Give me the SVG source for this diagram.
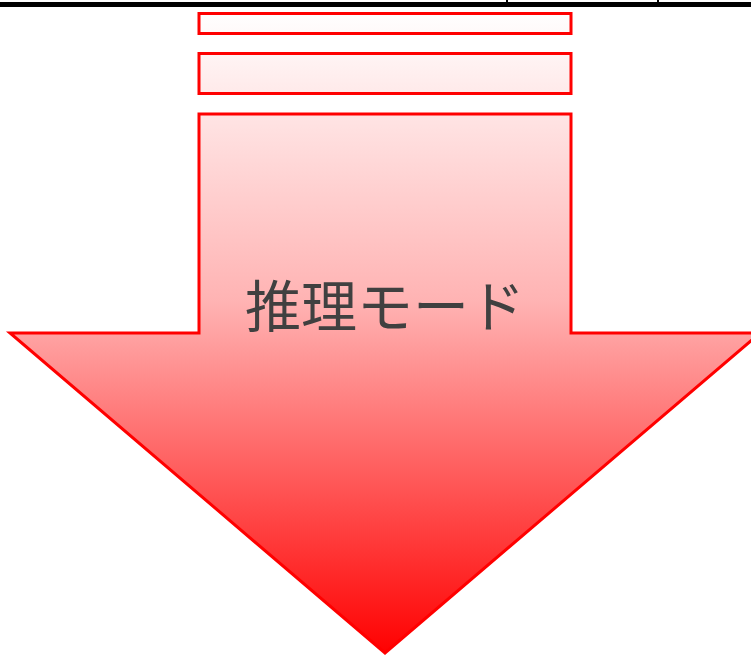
<svg xmlns="http://www.w3.org/2000/svg" width="751" height="655" viewBox="0 0 751 655">
<defs>
<linearGradient id="g" gradientUnits="userSpaceOnUse" x1="0" y1="12" x2="0" y2="655">
<stop offset="0" stop-color="#ffffff"/>
<stop offset="0.45" stop-color="#ffb3b3"/>
<stop offset="1" stop-color="#ff0000"/>
</linearGradient>
</defs>
<style>
.s{fill:url(#g);stroke:#ff0000;stroke-width:3}
.t{font-family:"Noto Sans CJK JP","Noto Sans",sans-serif;font-size:56px;fill:#404040;text-anchor:middle}
</style>
<g id="topline">
<rect x="0" y="2" width="751" height="5" fill="#000"/>
<rect x="506" y="0" width="2" height="4" fill="#000"/>
<rect x="657" y="0" width="2" height="4" fill="#000"/>
</g>
<g id="bar1"><rect class="s" x="199" y="13.5" width="372" height="20"/></g>
<g id="bar2"><rect class="s" x="199" y="53.5" width="372" height="40"/></g>
<g id="arrow">
<path class="s" d="M199 114 L571 114 L571 333 L760 333 L385 653 L10 333 L199 333 Z"/>
<text class="t" x="385" y="327">推理モード</text>
</g>
</svg>
